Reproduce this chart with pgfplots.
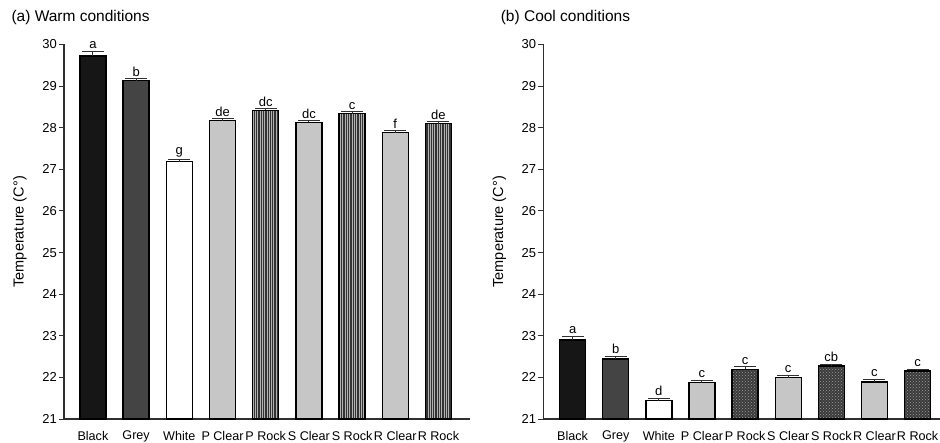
\documentclass[border=0pt]{standalone}
\usepackage{pgfplots}
\pgfplotsset{compat=1.18}
\usepackage{fontspec}
\setmainfont{Liberation Sans}
\usetikzlibrary{patterns,patterns.meta}
\definecolor{cblack}{HTML}{161616}
\definecolor{cgrey}{HTML}{444444}
\definecolor{cclear}{HTML}{C6C6C6}
\definecolor{crock}{HTML}{333333}
\definecolor{crockB}{HTML}{3A3A3A}
\definecolor{axisc}{HTML}{303030}
\pgfplotsset{
  panel/.style={
    scale only axis, height=374.5pt, anchor=south west,
    ymin=21, ymax=30, clip=false,
    axis x line*=bottom, axis y line*=left,
    axis line style={axisc, line width=1.3pt},
    ytick={21,...,30},
    xtick={0,...,8},
    xticklabels={Black,Grey,White,P Clear,P Rock,S Clear,S Rock,R Clear,R Rock},
    x tick style={draw=none},
    y tick style={axisc, line width=0.9pt},
    tick align=outside, major tick length=5pt,
    /pgf/number format/assume math mode=true,
    yticklabel style={font=\fontsize{13}{15}\selectfont, inner sep=2pt, text=black},
    xticklabel style={font=\fontsize{12.6}{14}\selectfont, text=black, inner sep=0pt, anchor=north, yshift=-7pt},
    every axis y label/.style={at={(axis description cs:0,0.5)}, anchor=center, rotate=90, yshift=44pt, font=\fontsize{14.5}{16}\selectfont},
    ylabel={Temperature (C°)},
    title style={at={(axis description cs:0,1)}, anchor=west, yshift=21pt, font=\fontsize{15.5}{18}\selectfont},
  },
  bars/.style={
    ybar, bar width=26pt, bar shift=0pt, draw=black, line width=1.3pt,
    error bars/y dir=plus, error bars/y explicit,
    error bars/error mark=|,
    error bars/error bar style={line width=1pt, color=axisc},
    error bars/error mark options={line width=1pt, color=axisc, mark size=11pt},
  },
  lab/.style={
    nodes near coords, point meta=explicit symbolic,
    nodes near coords style={anchor=base, yshift=#1, inner sep=0pt, text=black, font=\fontsize{13}{15}\selectfont},
  },
  rockA/.style={fill=crock, postaction={pattern={Lines[angle=90, distance=2.3pt, line width=0.55pt]}, pattern color=gray!60}},
  rockB/.style={fill=crockB, postaction={pattern=crosshatch dots, pattern color=gray!75}},
}
\begin{document}
\begin{tikzpicture}
\path[use as bounding box] (0,0) rectangle (940pt,443pt);
% (a) Warm conditions
\begin{axis}[panel, at={(64pt,24pt)}, width=406pt, xmin=-0.67, xmax=8.73,
  title={(a) Warm conditions}, title style={xshift=-56pt}]
\addplot[bars, fill=cblack, lab=8pt] table[x=x, y=y, y error=e, meta=l] {
x y e l
0 29.72 0.10 a
};
\addplot[bars, fill=cgrey, lab=4.5pt] table[x=x, y=y, y error=e, meta=l] {
x y e l
1 29.13 0.05 b
};
\addplot[bars, fill=white, lab=7pt] table[x=x, y=y, y error=e, meta=l] {
x y e l
2 27.18 0.06 g
};
\addplot[bars, fill=cclear, lab=4pt] table[x=x, y=y, y error=e, meta=l] {
x y e l
3 28.17 0.05 de
5 28.13 0.04 dc
7 27.88 0.05 f
};
\addplot[bars, rockA, lab=4pt] table[x=x, y=y, y error=e, meta=l] {
x y e l
4 28.42 0.05 dc
6 28.34 0.05 c
8 28.10 0.04 de
};
\end{axis}
% (b) Cool conditions
\begin{axis}[panel, at={(543.3pt,24pt)}, width=396.7pt, xmin=-0.68, xmax=8.52,
  title={(b) Cool conditions}, title style={xshift=-46pt}]
\addplot[bars, fill=cblack, lab=6.5pt] table[x=x, y=y, y error=e, meta=l] {
x y e l
0 22.90 0.09 a
};
\addplot[bars, fill=cgrey, lab=5.5pt] table[x=x, y=y, y error=e, meta=l] {
x y e l
1 22.44 0.06 b
};
\addplot[bars, fill=white, lab=5.5pt] table[x=x, y=y, y error=e, meta=l] {
x y e l
2 21.44 0.06 d
};
\addplot[bars, fill=cclear, lab=5pt] table[x=x, y=y, y error=e, meta=l] {
x y e l
3 21.87 0.06 c
5 21.99 0.06 c
7 21.89 0.06 c
};
\addplot[bars, rockB, lab=4.5pt] table[x=x, y=y, y error=e, meta=l] {
x y e l
4 22.19 0.06 c
6 22.27 0.05 cb
8 22.15 0.05 c
};
\end{axis}
\end{tikzpicture}
\end{document}
